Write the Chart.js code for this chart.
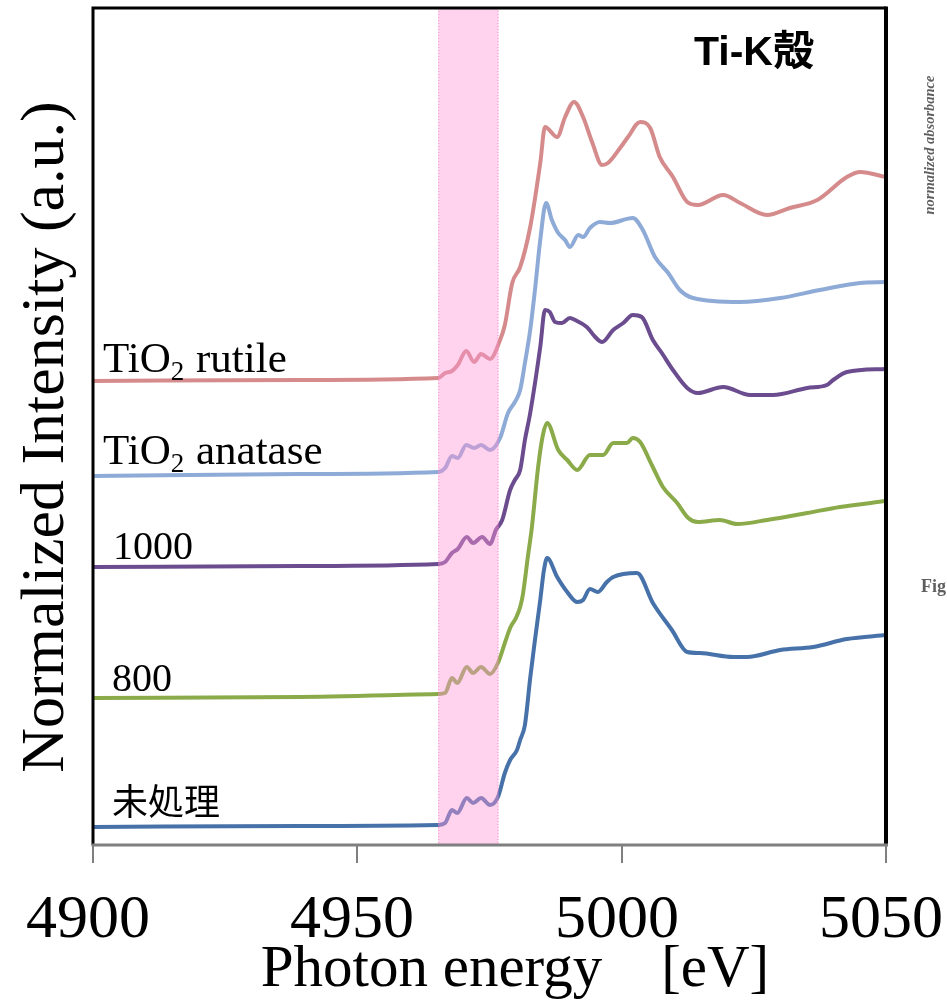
<!DOCTYPE html>
<html>
<head>
<meta charset="utf-8">
<script src="https://cdn.jsdelivr.net/npm/chart.js@4.4.1/dist/chart.umd.min.js"></script>
<style>
  html, body { margin: 0; padding: 0; background: #fff; }
  #wrap { width: 947px; height: 1005px; }
</style>
</head>
<body>
<div id="wrap"><canvas id="xanes" width="947" height="1005"></canvas></div>
<script>
// Ti K-edge XANES, offset spectra (energy in eV, intensity in a.u. incl. offset)
const E_RUTILE = [4900.0, 4939.2, 4965.3, 4966.6, 4967.9, 4969.0, 4970.6, 4972.1, 4973.4, 4975.1, 4977.0, 4977.9, 4979.3, 4980.8, 4982.7, 4984.6, 4985.5, 4987.8, 4989.3, 4991.0, 4992.7, 4994.4, 4996.3, 4997.4, 4999.7, 5001.2, 5003.5, 5005.4, 5007.2, 5009.7, 5012.4, 5014.4, 5019.2, 5022.4, 5027.5, 5031.8, 5037.0, 5042.6, 5045.1, 5050.0];
const I_RUTILE = [4.64, 4.65, 4.67, 4.72, 4.74, 4.80, 4.94, 4.83, 4.91, 4.86, 5.05, 5.20, 5.62, 5.78, 6.18, 6.82, 7.18, 7.08, 7.28, 7.43, 7.28, 7.03, 6.80, 6.82, 6.97, 7.08, 7.23, 7.17, 6.88, 6.68, 6.43, 6.40, 6.50, 6.42, 6.30, 6.37, 6.45, 6.68, 6.73, 6.68];

const E_ANATASE = [4900.0, 4939.2, 4965.3, 4966.6, 4967.9, 4969.0, 4970.6, 4972.1, 4973.4, 4975.1, 4977.0, 4978.5, 4979.8, 4980.8, 4981.7, 4982.7, 4983.6, 4984.6, 4985.7, 4986.8, 4988.0, 4989.3, 4990.2, 4991.8, 4992.7, 4994.0, 4995.9, 4997.8, 5002.1, 5004.0, 5006.3, 5008.8, 5011.0, 5013.5, 5022.4, 5030.0, 5037.5, 5045.1, 5050.0];
const I_ANATASE = [3.69, 3.71, 3.73, 3.77, 3.89, 3.87, 4.00, 3.97, 4.00, 3.95, 4.07, 4.32, 4.43, 4.55, 4.82, 5.15, 5.55, 6.05, 6.42, 6.25, 6.12, 6.05, 5.98, 6.10, 6.08, 6.17, 6.23, 6.22, 6.27, 6.15, 5.88, 5.72, 5.55, 5.47, 5.43, 5.47, 5.55, 5.62, 5.63];

const E_1000 = [4900.0, 4939.2, 4965.3, 4966.6, 4967.9, 4969.0, 4970.7, 4971.9, 4973.6, 4975.1, 4976.2, 4977.4, 4978.9, 4979.8, 4980.8, 4981.7, 4982.7, 4984.6, 4985.5, 4986.4, 4987.4, 4988.7, 4990.2, 4991.2, 4993.4, 4995.0, 4996.3, 4998.4, 5000.3, 5002.1, 5003.8, 5005.9, 5007.6, 5009.7, 5012.4, 5014.4, 5019.2, 5024.3, 5028.6, 5035.1, 5038.8, 5040.0, 5042.6, 5050.0];
const I_1000 = [2.78, 2.79, 2.81, 2.83, 2.92, 2.96, 3.08, 3.02, 3.08, 3.01, 3.15, 3.25, 3.55, 3.65, 3.75, 4.05, 4.32, 4.98, 5.35, 5.33, 5.23, 5.22, 5.27, 5.25, 5.18, 5.08, 5.03, 5.15, 5.22, 5.30, 5.28, 5.05, 4.92, 4.75, 4.57, 4.52, 4.58, 4.50, 4.50, 4.57, 4.60, 4.65, 4.73, 4.76];

const E_800 = [4900.0, 4939.2, 4965.3, 4966.6, 4967.9, 4968.9, 4970.7, 4971.9, 4973.4, 4975.1, 4976.6, 4977.9, 4978.9, 4980.0, 4980.8, 4981.3, 4982.3, 4983.0, 4984.2, 4985.1, 4985.9, 4988.0, 4989.7, 4991.6, 4994.0, 4996.5, 4998.4, 5001.0, 5002.1, 5003.5, 5005.7, 5007.8, 5010.5, 5012.6, 5014.4, 5018.6, 5021.8, 5027.5, 5035.1, 5041.3, 5050.0];
const I_800 = [1.47, 1.48, 1.51, 1.52, 1.67, 1.62, 1.78, 1.72, 1.78, 1.71, 1.82, 2.02, 2.17, 2.27, 2.38, 2.50, 2.90, 3.17, 3.78, 4.10, 4.22, 3.95, 3.85, 3.75, 3.90, 3.90, 4.02, 4.02, 4.07, 4.03, 3.80, 3.58, 3.42, 3.27, 3.23, 3.25, 3.21, 3.25, 3.32, 3.38, 3.44];

const E_RAW = [4900.0, 4939.2, 4965.3, 4966.6, 4967.9, 4968.9, 4970.7, 4971.9, 4973.4, 4975.1, 4976.6, 4977.9, 4978.9, 4980.2, 4980.8, 4981.7, 4982.7, 4983.6, 4984.6, 4985.3, 4985.9, 4987.8, 4989.7, 4991.6, 4992.7, 4994.0, 4995.5, 4997.2, 4998.4, 5002.9, 5005.9, 5009.5, 5012.4, 5014.8, 5021.1, 5023.7, 5030.0, 5036.2, 5042.6, 5050.0];
const I_RAW = [0.18, 0.19, 0.20, 0.22, 0.35, 0.32, 0.47, 0.42, 0.47, 0.40, 0.48, 0.72, 0.85, 0.95, 1.05, 1.20, 1.67, 2.05, 2.45, 2.75, 2.87, 2.68, 2.53, 2.43, 2.45, 2.56, 2.53, 2.63, 2.68, 2.72, 2.42, 2.15, 1.93, 1.92, 1.88, 1.88, 1.95, 1.98, 2.06, 2.10];

const SERIES_NAMES = ["TiO2 rutile", "TiO2 anatase", "1000", "800", "未処理"];
const X_TICKS = [4900, 4950, 5000, 5050];
const PRE_EDGE_BAND = [4965.3, 4976.7];
const X_TITLE = "Photon energy\u3000[eV]";
const Y_TITLE = "Normalized Intensity (a.u.)";
const EDGE_LABEL = "Ti-K殻";

const COLORS = ["#d58b8b", "#8eaad6", "#6b4d8f", "#8bab4b", "#4771a9"];
const $ = id => document.getElementById(id);

const pts = (es, is) => es.map((e, i) => ({ x: e, y: is[i] }));
const SERIES = [
  pts(E_RUTILE, I_RUTILE), pts(E_ANATASE, I_ANATASE),
  pts(E_1000, I_1000), pts(E_800, I_800), pts(E_RAW, I_RAW),
];

const SERIF = "'Liberation Serif', 'DejaVu Serif', serif";

// everything around the plot: band, frame, ticks, text
const decor = {
  id: "decor",
  beforeDraw(c) {
    const g = c.ctx;
    g.save();
    g.fillStyle = "#fff";
    g.fillRect(0, 0, c.width, c.height);
    g.restore();
  },
  afterDatasetsDraw(c) {
    const g = c.ctx, a = c.chartArea, xs = c.scales.x;
    const x0 = xs.getPixelForValue(PRE_EDGE_BAND[0]);
    const x1 = xs.getPixelForValue(PRE_EDGE_BAND[1]);
    g.save();
    g.fillStyle = "rgba(255,150,215,0.42)";
    g.fillRect(x0, a.top, x1 - x0, a.bottom - a.top);
    g.strokeStyle = "rgba(255,110,200,0.7)";
    g.lineWidth = 1;
    g.setLineDash([1, 2]);
    g.beginPath();
    g.moveTo(x0 + 0.5, a.top); g.lineTo(x0 + 0.5, a.bottom);
    g.moveTo(x1 - 0.5, a.top); g.lineTo(x1 - 0.5, a.bottom);
    g.stroke();
    g.restore();
  },
  afterDraw(c) {
    const g = c.ctx, a = c.chartArea, xs = c.scales.x, ys = c.scales.y;
    g.save();
    // frame
    g.strokeStyle = "#000";
    g.lineWidth = 3;
    g.beginPath();
    g.moveTo(a.left, a.bottom); g.lineTo(a.left, a.top);
    g.lineTo(a.right, a.top);
    g.stroke();
    g.lineWidth = 4;
    g.beginPath();
    g.moveTo(a.right, a.top - 1.5); g.lineTo(a.right, a.bottom);
    g.stroke();
    g.strokeStyle = "#7f7f7f";
    g.lineWidth = 3;
    g.beginPath();
    g.moveTo(a.left - 1.5, a.bottom); g.lineTo(a.right + 2, a.bottom);
    g.stroke();
    // ticks + labels
    g.lineWidth = 2;
    g.fillStyle = "#000";
    g.font = `62px ${SERIF}`;
    g.textAlign = "center";
    g.textBaseline = "alphabetic";
    X_TICKS.forEach(t => {
      const px = Math.round(xs.getPixelForValue(t));
      g.beginPath();
      g.moveTo(px, a.bottom); g.lineTo(px, a.bottom + 18);
      g.stroke();
      g.fillText(String(t), px - 5, a.bottom + 92);
    });
    // axis titles
    g.font = `59px ${SERIF}`;
    g.fillText(X_TITLE, 515, 986);
    g.save();
    g.translate(63, 437);
    g.rotate(-Math.PI / 2);
    g.font = `62px ${SERIF}`;
    g.fillText(Y_TITLE, 0, 0);
    g.restore();
    // series labels, anchored above each baseline
    g.textAlign = "left";
    const lx = [103, 103, 113, 112, 112];
    const up = [9, 12, 8, 7, 12];
    SERIES.forEach((s, i) => {
      const y = ys.getPixelForValue(s[0].y) - up[i];
      const name = SERIES_NAMES[i];
      if (name.startsWith("TiO2")) {
        g.font = `43px ${SERIF}`;
        g.fillText("TiO", lx[i], y);
        let x = lx[i] + g.measureText("TiO").width;
        g.font = `27px ${SERIF}`;
        g.fillText("2", x, y + 8);
        x += g.measureText("2").width + 1;
        g.font = `43px ${SERIF}`;
        g.fillText(name.slice(4), x, y);
      } else if (/^\d+$/.test(name)) {
        g.font = `40px ${SERIF}`;
        g.fillText(name, lx[i], y);
      } else {
        g.font = "36px 'Noto Sans CJK JP', sans-serif";
        g.fillText(name, lx[i], y);
      }
    });
    // edge label
    g.font = "bold 41px 'Liberation Sans', 'Noto Sans CJK JP', sans-serif";
    g.fillText(EDGE_LABEL, 694, 65);
    // cropped neighbour figure at the right edge
    g.fillStyle = "rgba(40,40,40,0.75)";
    g.save();
    g.translate(934, 145);
    g.rotate(-Math.PI / 2);
    g.textAlign = "center";
    g.font = `italic bold 14.5px ${SERIF}`;
    g.fillText("normalized absorbance", 0, 0);
    g.restore();
    g.font = `bold 18px ${SERIF}`;
    g.fillText("Fig", 921, 592);
    g.restore();
  },
};

new Chart($("xanes"), {
  type: "scatter",
  data: {
    datasets: SERIES.map((s, i) => ({
      label: SERIES_NAMES[i],
      data: s,
      showLine: true,
      borderColor: COLORS[i],
      borderWidth: 4,
      pointRadius: 0,
      cubicInterpolationMode: "monotone",
    })),
  },
  options: {
    responsive: false,
    animation: false,
    devicePixelRatio: 1,
    layout: { padding: { left: 93, right: 61, top: 8, bottom: 160 } },
    plugins: { legend: { display: false }, tooltip: { enabled: false } },
    scales: {
      x: { type: "linear", min: 4900, max: 5050, display: false },
      y: { type: "linear", min: 0, max: 8.37, display: false },
    },
  },
  plugins: [decor],
});
</script>
</body>
</html>
